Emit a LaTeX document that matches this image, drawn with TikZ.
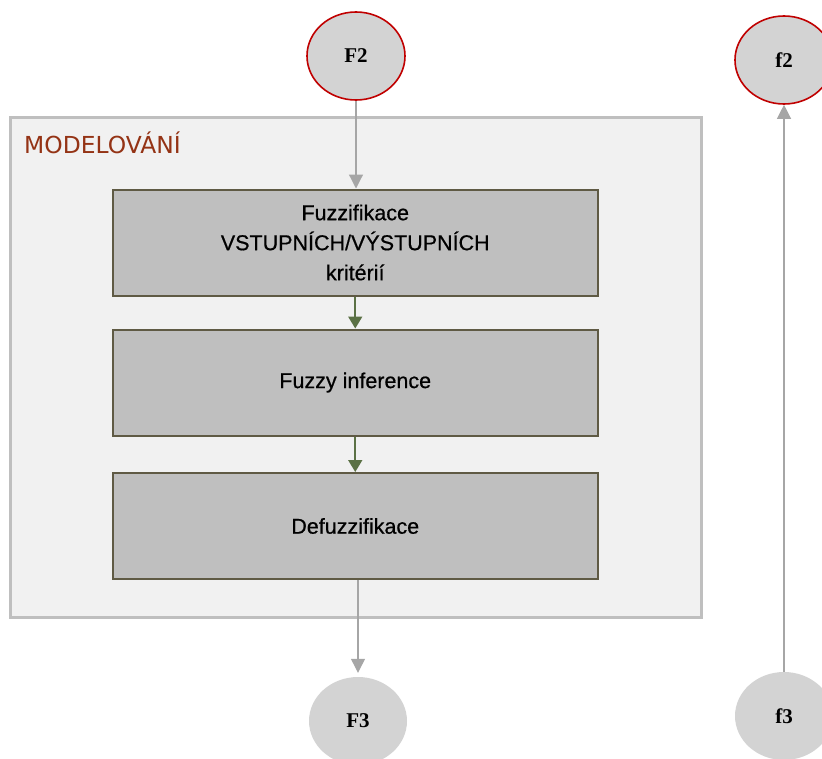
\documentclass[tikz,border=0pt]{standalone}
\usepackage{fontspec}
\setmainfont{Liberation Serif}
\newfontfamily\stagefont[FakeBold=0.6]{Liberation Sans}
\newfontfamily\framefont{DejaVu Sans}
\usetikzlibrary{shapes.geometric,arrows.meta}
\definecolor{ovalgrey}{HTML}{D3D3D3}
\definecolor{ovalred}{HTML}{C00000}
\definecolor{framefill}{HTML}{F1F1F1}
\definecolor{frameedge}{HTML}{BFBFBF}
\definecolor{framered}{HTML}{943315}
\definecolor{stagegrey}{HTML}{BFBFBF}
\definecolor{stageedge}{HTML}{5F5A44}
\definecolor{flowgreen}{HTML}{5B7145}
\definecolor{linkgrey}{HTML}{A6A6A6}
\begin{document}
\begin{tikzpicture}[x=1pt, y=-1pt,
	oval/.style={shape=ellipse,
				 fill=ovalgrey,
				 inner sep=0pt,
				 minimum width=98pt,
				 minimum height=88pt,
				 font=\fontsize{21}{23}\selectfont\bfseries},
	redoval/.style={oval, draw=ovalred, line width=1.6pt},
	stage/.style={shape=rectangle,
				  draw=stageedge,
				  fill=stagegrey,
				  line width=2pt,
				  minimum width=485pt,
				  minimum height=106pt,
				  align=center,
				  font=\stagefont\fontsize{21.5}{30}\selectfont},
	flow/.style={-{Triangle[length=12pt,width=14pt]}, draw=flowgreen, line width=1.8pt},
	link/.style={-{Triangle[length=14pt,width=14pt]}, draw=linkgrey, line width=1.2pt}]
	\useasboundingbox (0,0) rectangle (822,758);

	\draw (355.75,367.5) node[shape=rectangle,
							  draw=frameedge,
							  fill=framefill,
							  line width=3pt,
							  minimum width=690.5pt,
							  minimum height=500pt](frame){};
	\draw (24,153) node[anchor=base west,
						inner sep=0pt,
						text=framered,
						font=\framefont\fontsize{23.4}{26}\selectfont](framelabel){MODELOVÁNÍ};

	\draw (355.25,242.5) node[stage](fuzz){Fuzzifikace\\VSTUPNÍCH/VÝSTUPNÍCH\\kritérií};
	\draw (355.25,382.5) node[stage](infer){Fuzzy inference};
	\draw (355.25,526) node[stage](defuzz){Defuzzifikace};

	\draw (356,56) node[redoval](F2){F2};
	\draw (358,721) node[oval](F3){F3};
	\draw (784,60) node[redoval](f2){f2};
	\draw (784,716) node[oval](f3){f3};

	\draw [link](F2.south) -- (F2.south |- fuzz.north);
	\draw [flow](fuzz.south) -- (infer.north);
	\draw [flow](infer.south) -- (defuzz.north);
	\draw [link, shorten >=4pt](defuzz.south -| F3.north) -- (F3.north);
	\draw [link](f3.north) -- (f2.south);
\end{tikzpicture}
\end{document}
